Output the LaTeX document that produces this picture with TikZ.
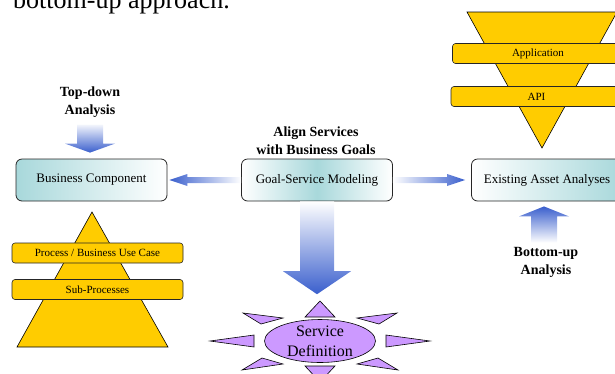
\documentclass[tikz,border=0pt]{standalone}
\usepackage{fontspec}
\setmainfont{Liberation Serif}
\usetikzlibrary{calc,shapes.geometric}
\definecolor{gold}{HTML}{FFCC00}
\definecolor{lav}{HTML}{CC99FF}
\definecolor{tealc}{HTML}{A8D8DB}
\definecolor{ablue}{HTML}{3A5FCD}
\begin{document}
\begin{tikzpicture}[x=1pt,y=-1pt,
 box/.style={draw=black!85, rounded corners=6pt, minimum width=151pt, minimum height=42pt, inner sep=0pt, font=\fontsize{13}{15}\selectfont, line width=0.8pt},
 bar/.style={draw=black!85, fill=gold, rounded corners=3pt, minimum width=171pt, minimum height=20pt, inner sep=0pt, font=\fontsize{11}{13}\selectfont, line width=0.6pt},
 lbl/.style={font=\fontsize{14}{18}\selectfont\bfseries, align=center, inner sep=0pt},
 tri/.style={draw=black, fill=gold, line width=0.6pt},
 spike/.style={draw=black, fill=lav, line width=0.6pt},
 fade/.style={draw=none},
]
\useasboundingbox (0,0) rectangle (615,373);
\begin{scope}
\clip (0,0) rectangle (615,373);
% cut-off heading text
\node[anchor=base west, font=\fontsize{26}{30}\selectfont, inner sep=0pt] (toptext) at (13,8) {bottom-up approach.};

% left pyramid
\draw[tri] (17,347) -- (92,212) -- (168,347) -- cycle;
\node[bar] (proc) at (97.5,253) {Process / Business Use Case};
\node[bar] (sub) at (97.5,289.5) {Sub-Processes};

% right inverted pyramid
\draw[tri] (467,12) -- (617,12) -- (542,148) -- cycle;
\node[bar] (app) at (538,53.5) {Application};
\node[bar] (api) at (536.5,96.5) {API};

% boxes
\node[box, left color=tealc, right color=white] (bc) at (91.5,180) {Business Component};
\node[box, left color=white, right color=white, middle color=tealc] (gs) at (317,180) {Goal-Service Modeling};
\node[box, left color=white, right color=tealc] (ea) at (547,180) {Existing Asset Analyses};

% labels
\node[lbl] (td) at (90,102) {Top-down\\Analysis};
\node[lbl] (al) at (316,141) {Align Services\\with Business Goals};
\node[lbl] (bu) at (546,262) {Bottom-up\\Analysis};

% top-down arrow
\coordinate (tdTail) at ($(td.south)+(0,7)$);
\coordinate (tdTip) at ($(bc.north)+(-1.5,-6)$);
\shade[fade, top color=ablue!6, bottom color=ablue]
  ($(tdTip|-tdTail)+(-13,0)$) -- ($(tdTip|-tdTail)+(13,0)$) -- ($(tdTip)+(13,-9)$)
  -- ($(tdTip)+(25,-9)$) -- (tdTip) -- ($(tdTip)+(-25,-9)$) -- ($(tdTip)+(-13,-9)$) -- cycle;

% goal -> business component
\coordinate (lTail) at (gs.west);
\coordinate (lTip) at ($(bc.east)+(2,0)$);
\shade[fade, left color=ablue, right color=white]
  ($(lTail)+(0,-3)$) -- ($(lTip)+(18,-3)$) -- ($(lTip)+(18,-6)$) -- (lTip)
  -- ($(lTip)+(18,6)$) -- ($(lTip)+(18,3)$) -- ($(lTail)+(0,3)$) -- cycle;

% goal -> existing asset
\coordinate (rTail) at (gs.east);
\coordinate (rTip) at ($(ea.west)+(-6,0)$);
\shade[fade, left color=white, right color=ablue]
  ($(rTail)+(0,-3)$) -- ($(rTip)+(-18,-3)$) -- ($(rTip)+(-18,-6)$) -- (rTip)
  -- ($(rTip)+(-18,6)$) -- ($(rTip)+(-18,3)$) -- ($(rTail)+(0,3)$) -- cycle;

% service definition star
\node[ellipse, draw=black, fill=lav, line width=0.6pt, minimum width=111pt, minimum height=43pt, inner sep=0pt] (sd) at (320,341) {};
\node[font=\fontsize{16}{20}\selectfont, align=center, inner sep=0pt] (sdt) at ($(sd.center)+(0,0)$) {Service\\Definition};
\draw[spike] (305,317) -- (335,317) -- (320,301) -- cycle;
\draw[spike] (305,366) -- (335,366) -- (320,382) -- cycle;
\draw[spike] (254,335) -- (254,347) -- (210,341) -- cycle;
\draw[spike] (386,335) -- (386,347) -- (430,341) -- cycle;
\draw[spike] (243,313) -- (283,318) -- (261,324) -- cycle;
\draw[spike] (397,313) -- (357,318) -- (379,324) -- cycle;
\draw[spike] (242,370) -- (262,358) -- (283,364) -- cycle;
\draw[spike] (398,370) -- (378,358) -- (357,364) -- cycle;

% goal -> service definition (big arrow)
\coordinate (dTail) at (gs.south);
\coordinate (dTip) at ($(sd.north)+(-3,-25)$);
\shade[fade, top color=white, bottom color=ablue]
  ($(dTail)+(-17,0)$) -- ($(dTail)+(17,0)$) -- ($(dTip)+(17,-23)$) -- ($(dTip)+(34,-23)$)
  -- (dTip) -- ($(dTip)+(-34,-23)$) -- ($(dTip)+(-17,-23)$) -- cycle;

% bottom-up arrow
\coordinate (uTail) at ($(bu.north)+(-2,-4)$);
\coordinate (uTip) at ($(ea.south)+(-3,5)$);
\shade[fade, top color=ablue, bottom color=white]
  ($(uTip|-uTail)+(-13,0)$) -- ($(uTip|-uTail)+(13,0)$) -- ($(uTip)+(13,10)$)
  -- ($(uTip)+(25,10)$) -- (uTip) -- ($(uTip)+(-25,10)$) -- ($(uTip)+(-13,10)$) -- cycle;
\end{scope}
\end{tikzpicture}
\end{document}
